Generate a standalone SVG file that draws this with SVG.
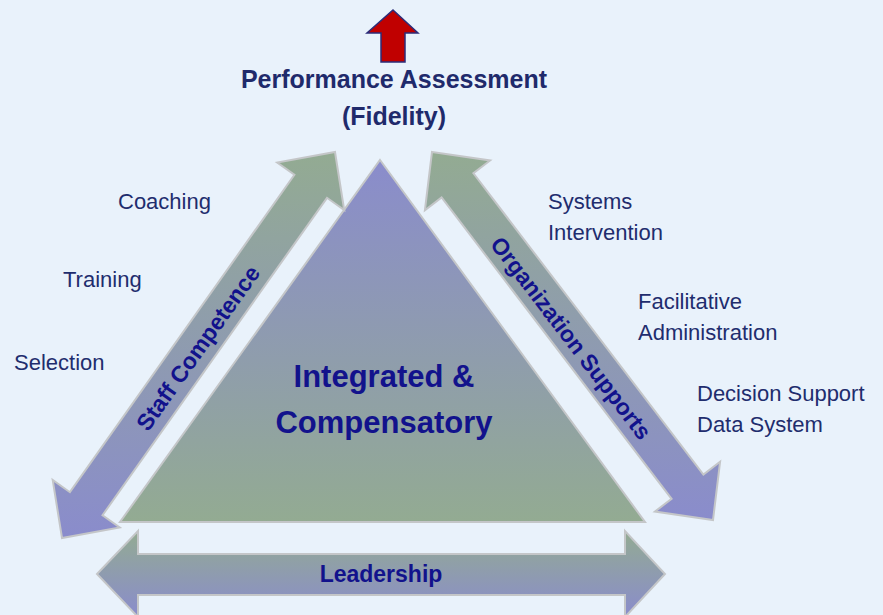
<svg xmlns="http://www.w3.org/2000/svg" width="883" height="615" viewBox="0 0 883 615">
<defs>
<linearGradient id="gArrow" x1="0" y1="0" x2="0" y2="1">
<stop offset="0" stop-color="#93ab92"/>
<stop offset="1" stop-color="#8a8ccc"/>
</linearGradient>
<linearGradient id="gTri" x1="0" y1="0" x2="0" y2="1">
<stop offset="0" stop-color="#8a8ccc"/>
<stop offset="1" stop-color="#93ab92"/>
</linearGradient>
<style>
.arrow{fill:url(#gArrow);stroke:#c4c6c8;stroke-width:2;stroke-linejoin:miter}
.tri{fill:url(#gTri);stroke:#c4c6c8;stroke-width:2}
.lbl{font-family:"Liberation Sans",Arial,sans-serif;font-size:22px;fill:#1f2d6e}
.title{font-family:"Liberation Sans",Arial,sans-serif;font-size:25px;font-weight:bold;fill:#1f2a6b;text-anchor:middle}
.band{font-family:"Liberation Sans",Arial,sans-serif;font-size:23px;font-weight:bold;fill:#12128c;text-anchor:middle}
.core{font-family:"Liberation Sans",Arial,sans-serif;font-size:31px;font-weight:bold;fill:#12128c;text-anchor:middle}
</style>
</defs>
<rect width="883" height="615" fill="#e9f2fb"/>
<g id="performance-assessment">
<polygon points="393,10 418,33 405,33 405,62 381,62 381,33 367,33" fill="#c00000" stroke="#2b2d7a" stroke-width="1.5" stroke-linejoin="miter"/>
<text class="title" x="394" y="88">Performance Assessment</text>
<text class="title" x="394" y="125">(Fidelity)</text>
</g>
<g id="integrated-compensatory">
<polygon class="tri" points="380,160 645,522 120,522"/>
<text class="core" x="384" y="387">Integrated &amp;</text>
<text class="core" x="384" y="433">Compensatory</text>
</g>
<g id="connectors">
<g id="staff-competence">
<polygon class="arrow" points="62,538 52.7,480 69.9,492.2 294.4,174.8 277.2,162.6 335,152 344.2,210 327.0,197.8 102.5,515.2 119.7,527.4"/>
<text class="band" transform="translate(198,348) rotate(-54.7)" y="8">Staff Competence</text>
</g>
<g id="organization-supports">
<polygon class="arrow" points="432,152 490.1,160.5 473.4,173.3 703.4,474.6 720.1,461.8 713,520 654.9,511.6 671.6,498.8 441.6,197.5 424.9,210.3"/>
<text class="band" transform="translate(571,338) rotate(52.6)" y="8">Organization Supports</text>
</g>
<g id="leadership">
<polygon class="arrow" points="97,574 138,531 138,554 625,554 625,531 665,574 625,617 625,595 138,595 138,617"/>
<text class="band" x="381" y="582">Leadership</text>
</g>
</g>
<g id="staff-labels">
<text class="lbl" x="118" y="209">Coaching</text>
<text class="lbl" x="63" y="287">Training</text>
<text class="lbl" x="14" y="370">Selection</text>
</g>
<g id="org-labels">
<text class="lbl" x="548" y="209">Systems</text>
<text class="lbl" x="548" y="240">Intervention</text>
<text class="lbl" x="638" y="309">Facilitative</text>
<text class="lbl" x="638" y="340">Administration</text>
<text class="lbl" x="697" y="401">Decision Support</text>
<text class="lbl" x="697" y="432">Data System</text>
</g>
</svg>
